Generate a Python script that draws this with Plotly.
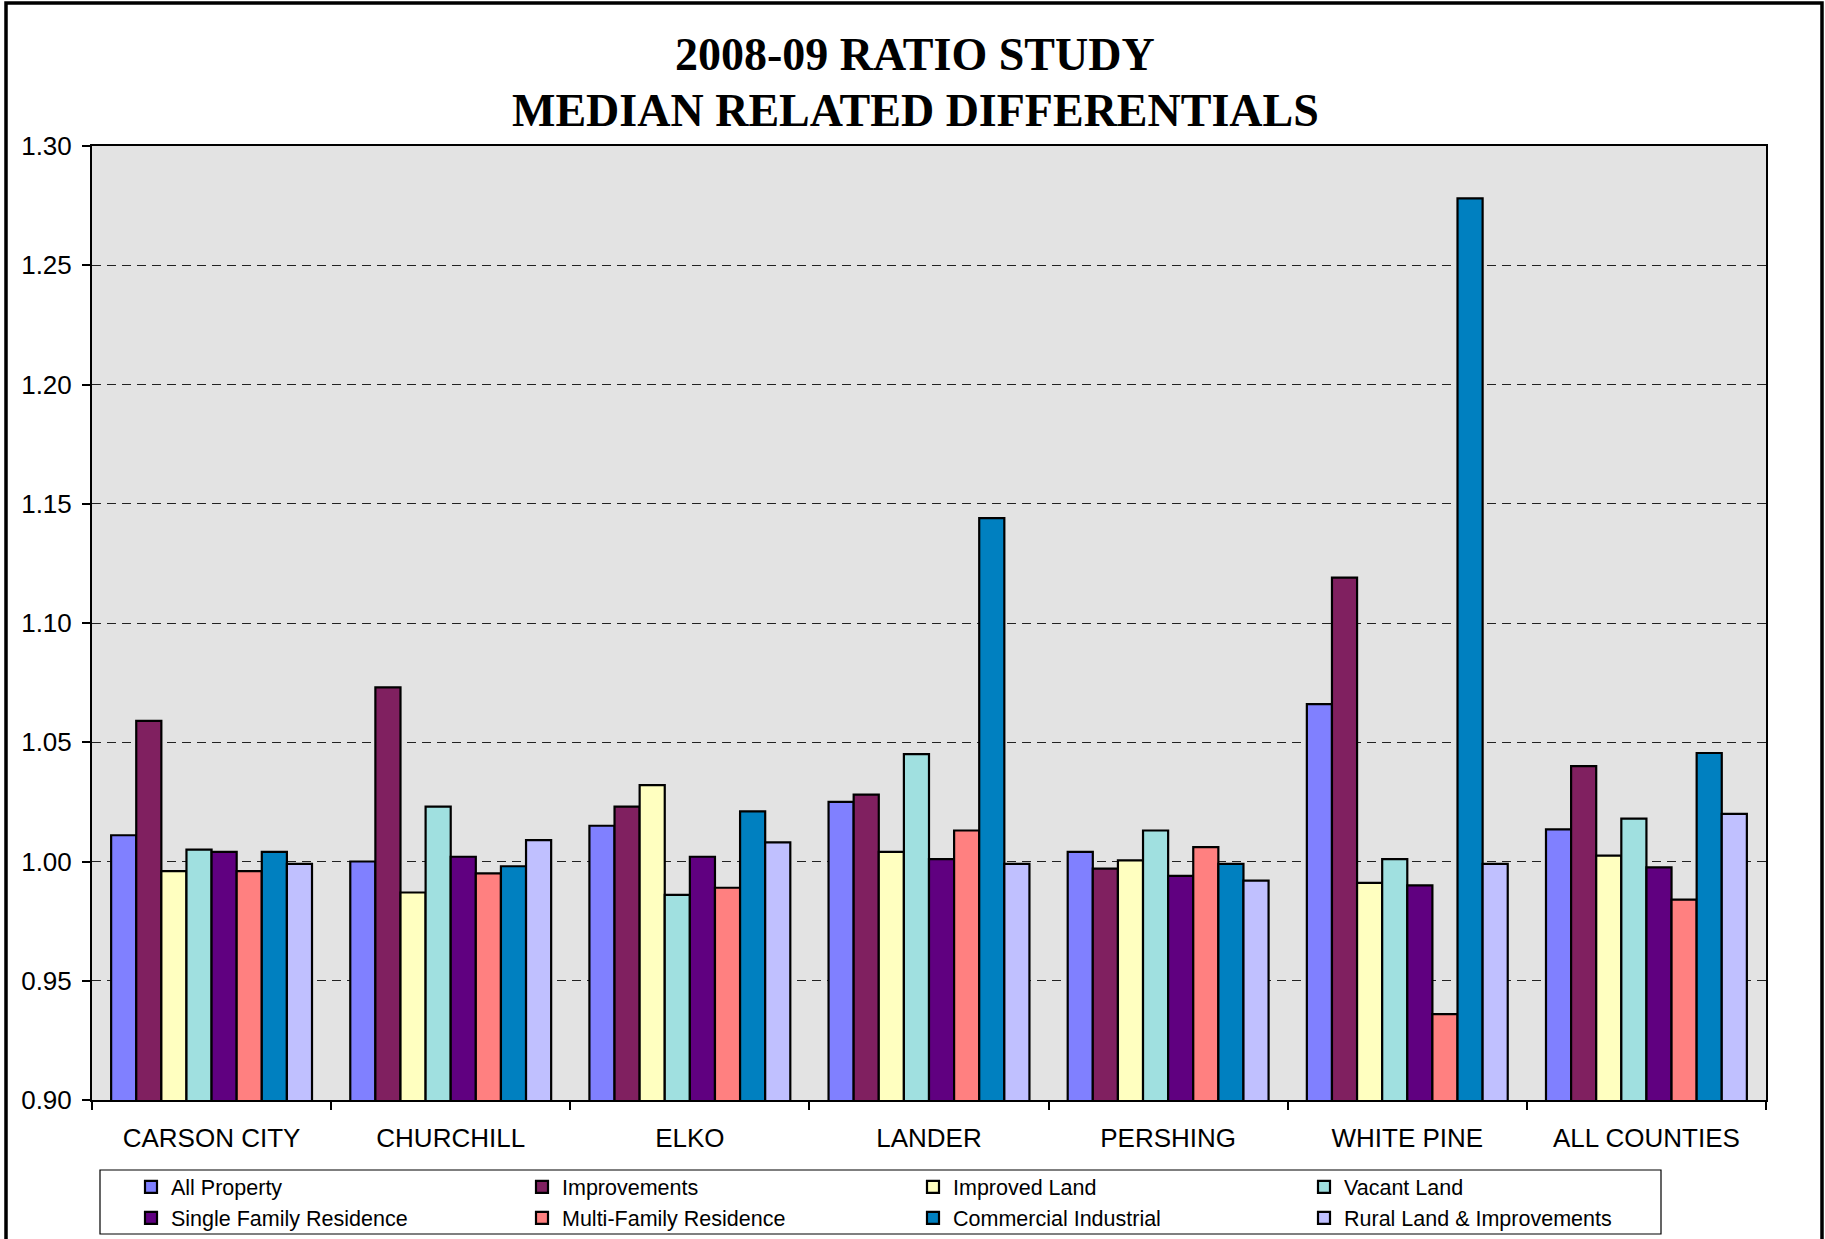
import plotly.graph_objects as go

# ---- data -------------------------------------------------------------
categories = ["CARSON CITY", "CHURCHILL", "ELKO", "LANDER",
              "PERSHING", "WHITE PINE", "ALL COUNTIES"]

all_property = [1.011, 1.000, 1.015, 1.025, 1.004, 1.066, 1.0135]
improvements = [1.059, 1.073, 1.023, 1.028, 0.997, 1.119, 1.040]
improved_land = [0.996, 0.987, 1.032, 1.004, 1.0005, 0.991, 1.0025]
vacant_land = [1.005, 1.023, 0.986, 1.045, 1.013, 1.001, 1.018]
single_family = [1.004, 1.002, 1.002, 1.001, 0.994, 0.990, 0.9975]
multi_family = [0.996, 0.995, 0.989, 1.013, 1.006, 0.936, 0.984]
commercial = [1.004, 0.998, 1.021, 1.144, 0.999, 1.278, 1.0455]
rural_land = [0.999, 1.009, 1.008, 0.999, 0.992, 0.999, 1.020]

series_names = ["All Property", "Improvements", "Improved Land", "Vacant Land",
                "Single Family Residence", "Multi-Family Residence",
                "Commercial Industrial", "Rural Land & Improvements"]
series_values = [all_property, improvements, improved_land, vacant_land,
                 single_family, multi_family, commercial, rural_land]
series_colors = ["#8080FF", "#802060", "#FFFFC0", "#A0E0E0",
                 "#600080", "#FF8080", "#0080C0", "#C0C0FF"]

y_ticks = [0.90, 0.95, 1.00, 1.05, 1.10, 1.15, 1.20, 1.25, 1.30]

# ---- page geometry ------------------------------------------------------
W, H = 1825, 1239
ML, MR, MT, MB = 92, 59, 146, 139
PW, PH = W - ML - MR, H - MT - MB


def px_x(x):
    return (x - ML) / PW


def px_y(y):
    return (H - MB - y) / PH


SANS = "Liberation Sans, Arial, sans-serif"
SERIF = "Liberation Serif, Times New Roman, serif"

fig = go.Figure()
for name, vals, col in zip(series_names, series_values, series_colors):
    fig.add_trace(go.Bar(
        name=name, x=categories, y=vals,
        marker=dict(color=col, line=dict(color="black", width=2.2)),
    ))

fig.update_layout(
    width=W, height=H,
    margin=dict(l=ML, r=MR, t=MT, b=MB, pad=0, autoexpand=False),
    paper_bgcolor="white",
    plot_bgcolor="#E3E3E3",
    barmode="group", bargap=0.16, bargroupgap=0,
    font=dict(family=SANS, color="black"),
    showlegend=True,
    legend=dict(
        orientation="h",
        x=px_x(131), xanchor="left",
        y=px_y(1166.5), yanchor="top",
        bgcolor="rgba(0,0,0,0)", borderwidth=0,
        font=dict(family=SANS, size=21.5, color="black"),
        entrywidth=346, entrywidthmode="pixels",
        itemclick=False, itemdoubleclick=False,
    ),
)

fig.update_xaxes(
    showline=True, linecolor="black", linewidth=2, mirror=True,
    ticks="outside", tickson="boundaries", ticklen=8, tickwidth=1.5,
    tickcolor="black", automargin=False,
    tickfont=dict(family=SANS, size=26, color="black"),
    ticklabelstandoff=14,
    showgrid=False,
)
fig.update_yaxes(
    range=[0.90, 1.30], tickmode="array", tickvals=y_ticks,
    tickformat=".2f",
    showline=True, linecolor="black", linewidth=2, mirror=True,
    ticks="outside", ticklen=8, tickwidth=1.5, tickcolor="black",
    automargin=False,
    tickfont=dict(family=SANS, size=26, color="black"),
    ticklabelstandoff=5,
    showgrid=True, gridcolor="#222222", gridwidth=1.2, griddash="9px,6px",
    zeroline=False,
)

# two-line title
fig.add_annotation(
    text="<b>2008-09 RATIO STUDY</b>", xref="paper", yref="paper",
    x=px_x(915), y=px_y(54), xanchor="center", yanchor="middle",
    showarrow=False, font=dict(family=SERIF, size=46, color="black"),
)
fig.add_annotation(
    text="<b>MEDIAN RELATED DIFFERENTIALS</b>", xref="paper", yref="paper",
    x=px_x(915), y=px_y(111), xanchor="center", yanchor="middle",
    showarrow=False, font=dict(family=SERIF, size=46, color="black"),
)

# legend frame
fig.add_shape(
    type="rect", xref="paper", yref="paper",
    x0=px_x(100), x1=px_x(1661), y0=px_y(1170), y1=px_y(1234),
    line=dict(color="black", width=1.2), fillcolor="rgba(0,0,0,0)",
    layer="above",
)
# page frame
fig.add_shape(
    type="rect", xref="paper", yref="paper",
    x0=px_x(6), x1=px_x(1822), y0=px_y(1260), y1=px_y(3),
    line=dict(color="black", width=3.5), fillcolor="rgba(0,0,0,0)",
    layer="above",
)

fig.write_html("out.html")
